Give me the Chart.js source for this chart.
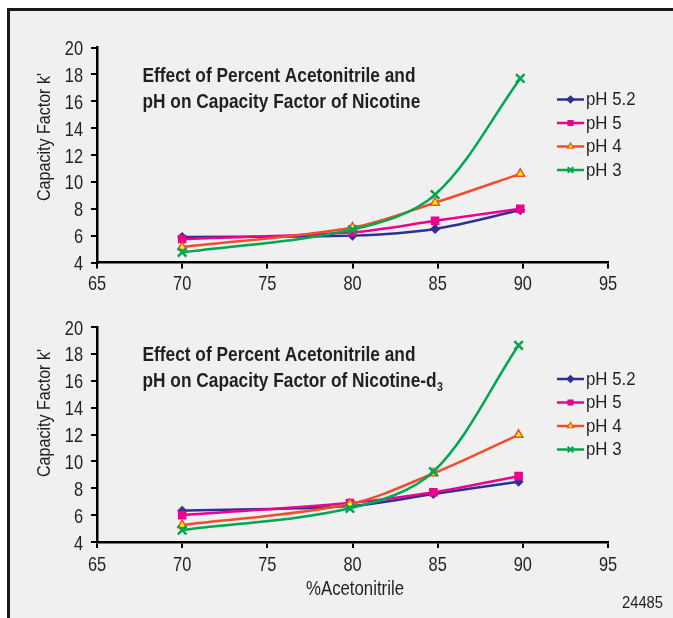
<!DOCTYPE html>
<html>
<head>
<meta charset="utf-8">
<script src="https://cdn.jsdelivr.net/npm/chart.js@4.4.1/dist/chart.umd.min.js"></script>
<style>
  html, body { margin: 0; padding: 0; background: #fff; width: 673px; height: 618px; overflow: hidden; position: relative; }
  #frame { position: absolute; left: 7px; top: 8px; width: 666px; height: 610px; box-sizing: border-box;
           border-top: 3px solid #1a1a1a; border-left: 3px solid #1a1a1a; background: #f0f0f0; }
  canvas { position: absolute; left: 0; }
</style>
</head>
<body>
<div id="frame"></div>
<canvas id="chartTop" width="673" height="300" style="top:0"></canvas>
<canvas id="chartBottom" width="673" height="318" style="top:300px"></canvas>
<script>
// x positions (% acetonitrile) as plotted in each panel
const xTop = [70, 80, 84.85, 89.85];
const xBottom = [70, 79.85, 84.75, 89.75];

const seriesNames = ['pH 5.2', 'pH 5', 'pH 4', 'pH 3'];

// capacity factor k' - nicotine
const nicPH52 = [5.9, 6.0, 6.5, 7.9];
const nicPH5 = [5.75, 6.25, 7.1, 8.0];
const nicPH4 = [5.15, 6.6, 8.45, 10.6];
const nicPH3 = [4.75, 6.45, 9.05, 17.7];

// capacity factor k' - nicotine-d3
const d3PH52 = [6.33, 6.68, 7.57, 8.49];
const d3PH5 = [6.0, 6.9, 7.7, 8.9];
const d3PH4 = [5.26, 6.83, 9.11, 11.98];
const d3PH3 = [4.89, 6.51, 9.23, 18.64];

const xTicks = [65, 70, 75, 80, 85, 90, 95];
const yTicks = [4, 6, 8, 10, 12, 14, 16, 18, 20];

const TEXT = '#231f20';
const SANS = "'Liberation Sans', Arial, sans-serif";

const styles = [
  { color: '#2e3192', point: 'rectRot', radius: 4, fill: '#2e3192' },
  { color: '#ec008c', point: 'rect', radius: 5, fill: '#ec008c' },
  { color: '#f04e2a', point: 'triangle', radius: 5, fill: '#fff200' },
  { color: '#00a651', point: 'crossRot', radius: 6, fill: '#00a651' }
];

function buildDatasets (xs, lists) {
  return lists.map((vals, i) => ({
    label: seriesNames[i],
    data: xs.map((x, j) => ({ x: x, y: vals[j] })),
    borderColor: styles[i].color,
    borderWidth: 2.5,
    tension: 0.33,
    pointStyle: styles[i].point,
    pointRadius: styles[i].radius,
    pointBackgroundColor: styles[i].fill,
    pointBorderColor: styles[i].color,
    pointBorderWidth: i === 3 ? 2.5 : 1.5,
    order: 3 - i,
    clip: false
  }));
}

function drawScaled (ctx, text, x, y, s, align) {
  ctx.save();
  ctx.translate(x, y);
  ctx.scale(s, 1);
  ctx.textAlign = align;
  ctx.fillText(text, 0, 0);
  ctx.restore();
  return ctx.measureText(text).width * s;
}

function overlay (opts) {
  return {
    id: 'overlay',
    afterDraw (chart) {
      const ctx = chart.ctx;
      const area = chart.chartArea;
      ctx.save();
      ctx.fillStyle = TEXT;
      ctx.textBaseline = 'alphabetic';

      // tick labels, condensed, placed through the scales
      ctx.font = '21px ' + SANS;
      const xs = chart.scales.x;
      const ys = chart.scales.y;
      xs.ticks.forEach(t => {
        drawScaled(ctx, String(t.value), xs.getPixelForValue(t.value), area.bottom + opts.xLabelDy, 0.78, 'center');
      });
      ys.ticks.forEach(t => {
        drawScaled(ctx, String(t.value), 83, ys.getPixelForValue(t.value) + 7.5, 0.78, 'right');
      });

      // chart title inside the plot
      ctx.font = 'bold 19.5px ' + SANS;
      const s = 273 / ctx.measureText(opts.title[0]).width;
      drawScaled(ctx, opts.title[0], 142.5, area.top + 34, s, 'left');
      const w2 = drawScaled(ctx, opts.title[1], 142.5, area.top + 60, s, 'left');
      if (opts.sub) {
        ctx.font = 'bold 12px ' + SANS;
        drawScaled(ctx, opts.sub, 142.5 + w2 + 0.5, area.top + 64, s, 'left');
      }

      // y axis title
      ctx.font = '18px ' + SANS;
      const yt = "Capacity Factor k'";
      const sy = 128 / ctx.measureText(yt).width;
      ctx.save();
      ctx.translate(50, opts.yTitleY);
      ctx.rotate(-Math.PI / 2);
      drawScaled(ctx, yt, 0, 0, sy, 'center');
      ctx.restore();

      // x axis title + figure number
      if (opts.xTitle) {
        ctx.font = '20px ' + SANS;
        const sx = 98 / ctx.measureText(opts.xTitle).width;
        drawScaled(ctx, opts.xTitle, 355, opts.xTitleY, sx, 'center');
      }
      if (opts.figNo) {
        ctx.font = '16px ' + SANS;
        const sf = 41 / ctx.measureText(opts.figNo).width;
        drawScaled(ctx, opts.figNo, 663, opts.figNoY, sf, 'right');
      }

      // legend
      ctx.font = '18px ' + SANS;
      const sl = 49.5 / ctx.measureText(seriesNames[0]).width;
      chart.data.datasets.forEach((ds, i) => {
        const y = area.top + 52 + i * 23.5;
        ctx.strokeStyle = ds.borderColor;
        ctx.lineWidth = 2.5;
        ctx.beginPath();
        ctx.moveTo(557, y);
        ctx.lineTo(584, y);
        ctx.stroke();
        ctx.fillStyle = ds.pointBackgroundColor;
        ctx.lineWidth = i === 3 ? 2 : 1.2;
        Chart.helpers.drawPoint(ctx, {
          pointStyle: ds.pointStyle,
          radius: i === 3 ? 4 : 3.5,
          borderWidth: ctx.lineWidth,
          rotation: 0
        }, 570.5, y);
        ctx.fillStyle = TEXT;
        ctx.textBaseline = 'middle';
        drawScaled(ctx, ds.label, 586, y + 1, sl, 'left');
      });
      ctx.restore();
    }
  };
}

function makeChart (canvasId, xs, lists, top, bottom, opts) {
  const canvas = document.getElementById(canvasId);
  return new Chart(canvas, {
    type: 'line',
    data: { datasets: buildDatasets(xs, lists) },
    options: {
      responsive: false,
      animation: false,
      layout: { padding: { left: 0, right: 673 - 608, top: top, bottom: 0 } },
      plugins: { legend: { display: false }, tooltip: { enabled: false } },
      scales: {
        x: {
          type: 'linear',
          min: xTicks[0],
          max: xTicks[xTicks.length - 1],
          afterBuildTicks: (scale) => { scale.ticks = xTicks.map(v => ({ value: v })); },
          afterFit: (scale) => { scale.height = canvas.height - bottom; },
          border: { color: '#000', width: 2.5 },
          grid: { drawOnChartArea: false, drawTicks: true, tickLength: 6, color: '#000', lineWidth: 2 },
          ticks: { display: false, autoSkip: false }
        },
        y: {
          min: yTicks[0],
          max: yTicks[yTicks.length - 1],
          afterBuildTicks: (scale) => { scale.ticks = yTicks.map(v => ({ value: v })); },
          afterFit: (scale) => { scale.width = 97; },
          border: { color: '#000', width: 2.5 },
          grid: { drawOnChartArea: false, drawTicks: true, tickLength: 6, color: '#000', lineWidth: 2 },
          ticks: { display: false, autoSkip: false }
        }
      }
    },
    plugins: [overlay(opts)]
  });
}

makeChart('chartTop', xTop, [nicPH52, nicPH5, nicPH4, nicPH3], 47.5, 262.5, {
  title: ['Effect of Percent Acetonitrile and', 'pH on Capacity Factor of Nicotine'],
  yTitleY: 137,
  xLabelDy: 27.5
});

makeChart('chartBottom', xBottom, [d3PH52, d3PH5, d3PH4, d3PH3], 27, 242, {
  title: ['Effect of Percent Acetonitrile and', 'pH on Capacity Factor of Nicotine-d'],
  sub: '3',
  yTitleY: 113,
  xLabelDy: 28.5,
  xTitle: '%Acetonitrile',
  xTitleY: 295,
  figNo: '24485',
  figNoY: 308
});
</script>
</body>
</html>
